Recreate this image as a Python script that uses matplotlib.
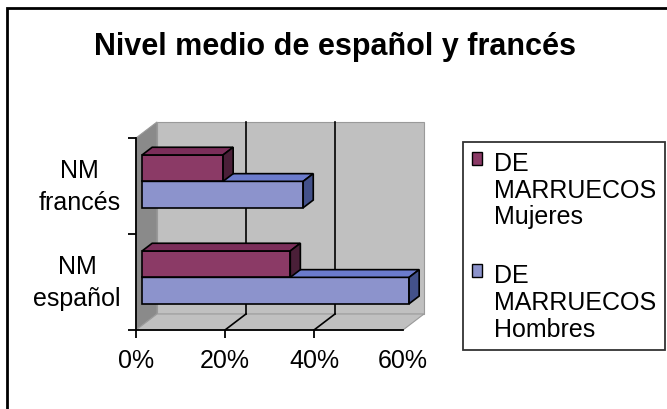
"""Nivel medio de español y francés: 3D-style horizontal bar chart."""

import matplotlib.pyplot as plt
from matplotlib.patches import Polygon, Rectangle

plt.rcParams['font.family'] = ['Liberation Sans', 'DejaVu Sans']

# Data (percent)
categories = ['NM\nespañol', 'NM\nfrancés']
series = ['DE\nMARRUECOS\nMujeres', 'DE\nMARRUECOS\nHombres']
mujeres = [33.3, 18.2]
hombres = [60.0, 36.2]
xticks = [0, 20, 40, 60]
xticklabels = ['0%', '20%', '40%', '60%']

# Colours: front, top, side
col_muj = ('#8b3a66', '#7b2e5a', '#4a1f38')
col_hom = ('#8c93cc', '#6b7bcc', '#43518a')

# 3D depth offsets in data units
DX, DY = 4.72, 0.167
F0, F1 = 0.29, 0.77          # bar depth range (fraction of wall depth)
BH = 0.275                   # bar thickness

fig = plt.figure(figsize=(6.67, 4.10), dpi=100)
ax = fig.add_axes([136 / 667, 79 / 410, 267 / 667, 192 / 410])
ax.set_xlim(0, 60)
ax.set_ylim(0, 2)
ax.set_facecolor('none')

# Outer frame
fig.patches.append(Rectangle((7 / 667, -0.05), 1.0, (410 - 9) / 410 + 0.05,
                             transform=fig.transFigure, fill=False,
                             edgecolor='black', linewidth=2))

# Walls and floor
walls = [
    ([(DX, DY), (60 + DX, DY), (60 + DX, 2 + DY), (DX, 2 + DY)], '#c0c0c0'),
    ([(0, 0), (DX, DY), (DX, 2 + DY), (0, 2)], '#8a8a8a'),
    ([(0, 0), (60, 0), (60 + DX, DY), (DX, DY)], '#c0c0c0'),
]
for pts, c in walls:
    ax.add_patch(Polygon(pts, closed=True, facecolor=c, edgecolor='#9a9a9a',
                         linewidth=0.8, clip_on=False, zorder=0))

# Gridlines on back wall and floor
for g in xticks[1:-1]:
    ax.plot([g + DX, g + DX], [DY, 2 + DY], color='black', lw=1.2,
            clip_on=False, zorder=1)
    ax.plot([g, g + DX], [0, DY], color='black', lw=1.2, clip_on=False, zorder=1)


def bar3d(y0, value, cols, z):
    x0, y0f = F0 * DX, y0 + F0 * DY
    ax.barh(y0f, value, height=BH, left=x0, align='edge', color=cols[0],
            edgecolor='black', linewidth=1.2, zorder=z, clip_on=False)
    y1 = y0 + BH
    top = [(F0 * DX, y1 + F0 * DY), (value + F0 * DX, y1 + F0 * DY),
           (value + F1 * DX, y1 + F1 * DY), (F1 * DX, y1 + F1 * DY)]
    side = [(value + F0 * DX, y0 + F0 * DY), (value + F1 * DX, y0 + F1 * DY),
            (value + F1 * DX, y1 + F1 * DY), (value + F0 * DX, y1 + F0 * DY)]
    ax.add_patch(Polygon(top, closed=True, facecolor=cols[1], edgecolor='black',
                         linewidth=1.2, zorder=z, clip_on=False))
    ax.add_patch(Polygon(side, closed=True, facecolor=cols[2], edgecolor='black',
                         linewidth=1.2, zorder=z, clip_on=False))


for i in range(len(categories)):
    bar3d(i + 0.5 - BH, hombres[i], col_hom, 3 + 2 * i)
    bar3d(i + 0.5, mujeres[i], col_muj, 4 + 2 * i)

# Axes
for s in ['top', 'right']:
    ax.spines[s].set_visible(False)
for s in ['left', 'bottom']:
    ax.spines[s].set_linewidth(1.3)
    ax.spines[s].set_zorder(2)

ax.set_xticks(xticks)
ax.set_xticklabels(xticklabels, fontsize=18)
ax.xaxis.get_major_ticks()[-1].tick1line.set_visible(False)
ax.tick_params(axis='x', length=6, width=1.3, pad=7)

ax.set_yticks([0, 1, 2])
ax.set_yticklabels([])
ax.set_yticks([0.5, 1.5], minor=True)
ax.set_yticklabels(categories, minor=True, fontsize=18)
ax.tick_params(axis='y', which='major', length=6, width=1.3)
ax.tick_params(axis='y', which='minor', length=0, pad=11)
for lab in ax.get_yticklabels(minor=True):
    lab.set_multialignment('center')
    lab.set_linespacing(1.4)
    lab.set_verticalalignment('center')

# Title
fig.text(335 / 667, 1 - 47 / 410, 'Nivel medio de español y francés',
         ha='center', va='center', fontsize=22, fontweight='bold')

# Legend
handles = [Rectangle((0, 0), 1, 1, facecolor=col_muj[0], edgecolor='black'),
           Rectangle((0, 0), 1, 1, facecolor=col_hom[0], edgecolor='black')]
leg = fig.legend(handles, series, loc='upper left',
                 bbox_to_anchor=(463 / 667, 1 - 143 / 410), fontsize=18,
                 frameon=True, fancybox=False, edgecolor='black',
                 handlelength=0.42, handleheight=0.42, handletextpad=0.45,
                 borderpad=0.35, labelspacing=1.4, borderaxespad=0)
leg.get_frame().set_linewidth(1.3)
for t in leg.get_texts():
    t.set_linespacing(1.15)
for h in leg.legend_handles:
    h.set_y(h.get_y() + 23)

fig.savefig('out.png', dpi=100)
